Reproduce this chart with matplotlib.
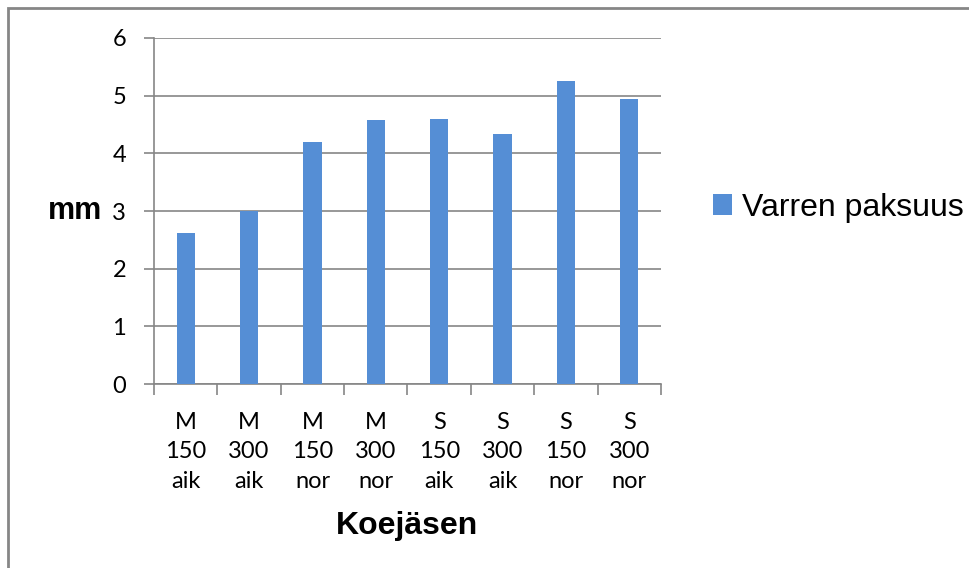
import matplotlib
matplotlib.use("Agg")
import matplotlib.pyplot as plt
from matplotlib.patches import Rectangle
from matplotlib.ticker import FixedLocator

# Stem thickness per test group
labels = ["M\n150\naik", "M\n300\naik", "M\n150\nnor", "M\n300\nnor",
          "S\n150\naik", "S\n300\naik", "S\n150\nnor", "S\n300\nnor"]
values = [2.62, 3.00, 4.19, 4.58, 4.60, 4.34, 5.25, 4.95]
series_name = "Varren paksuus"

bar_color = "#558ed5"
grid_color = "#868686"

fig = plt.figure(figsize=(9.7, 5.68), dpi=100)
ax = fig.add_axes([0.1588, 0.3239, 0.5226, 0.6092])

x = list(range(len(values)))
ax.bar(x, values, width=0.29, color=bar_color, label=series_name, zorder=3)

ax.set_xlim(-0.5, len(values) - 0.5)
ax.set_ylim(0, 6)
ax.set_yticks(range(0, 7))
ax.yaxis.grid(True, color=grid_color, linewidth=1.2, zorder=0)

# category labels centred, tick marks between categories
ax.set_xticks(x)
ax.set_xticklabels(labels, family="Lato", fontsize=17, linespacing=1.5)
ax.xaxis.set_minor_locator(FixedLocator([i - 0.5 for i in range(len(values) + 1)]))
ax.tick_params(axis="x", which="major", length=0, pad=20)
ax.tick_params(axis="x", which="minor", length=8, width=1.2, color=grid_color)
ax.tick_params(axis="y", length=7, width=1.2, color=grid_color, pad=13)
for lab in ax.get_yticklabels():
    lab.set_family("Lato")
    lab.set_fontsize(17)

for side in ("top", "right"):
    ax.spines[side].set_visible(False)
for side in ("left", "bottom"):
    ax.spines[side].set_color(grid_color)
    ax.spines[side].set_linewidth(1.2)

ax.set_xlabel("Koejäsen", family="Liberation Sans", fontsize=23,
              fontweight="bold", labelpad=14)
ax.set_ylabel("mm", family="Liberation Sans", fontsize=22, fontweight="bold",
              rotation=0, va="center", ha="center")
ax.yaxis.set_label_coords(-0.155, 0.5)

fig.legend(loc="center left", bbox_to_anchor=(0.722, 0.634), frameon=False,
           prop={"family": "Liberation Sans", "size": 23},
           handlelength=0.6, handleheight=0.6, handletextpad=0.3,
           borderaxespad=0)

# outer chart frame
fig.patches.append(Rectangle((8 / 970, -0.05), 1.2, 1 - 8 / 568 + 0.05,
                             transform=fig.transFigure, fill=False,
                             edgecolor=grid_color, linewidth=2))

fig.savefig("out.png", dpi=100)
